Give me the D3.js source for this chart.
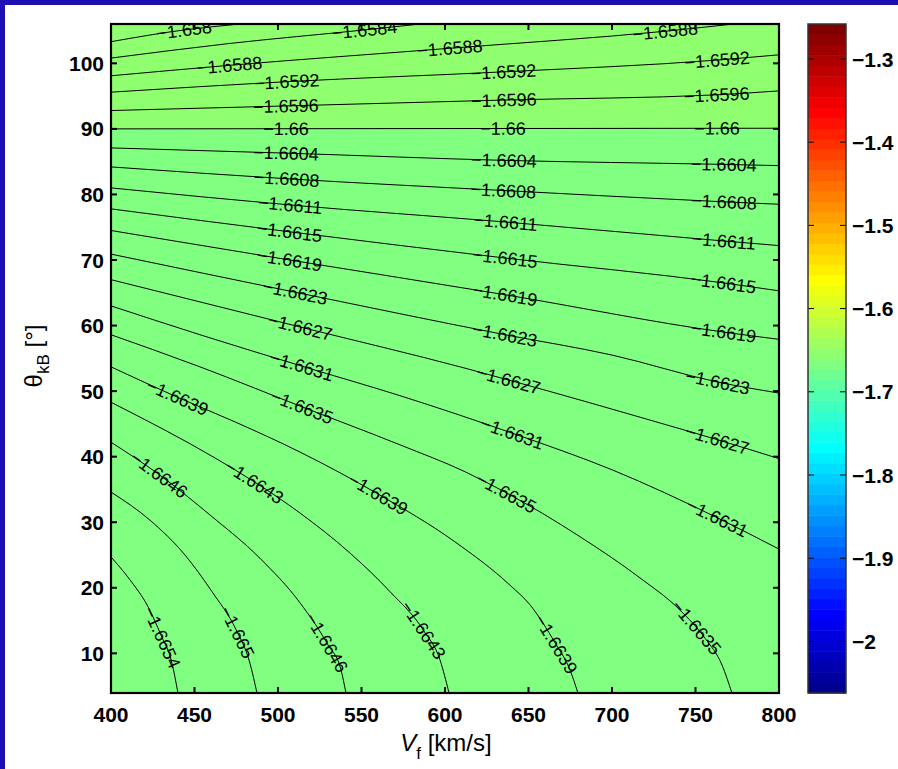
<!DOCTYPE html>
<html>
<head>
<meta charset="utf-8">
<script src="https://cdn.jsdelivr.net/npm/d3@7"></script>
<style>
  body { margin: 0; background: #fff; }
  text { font-family: "Liberation Sans", Arial, Helvetica, sans-serif; }
</style>
</head>
<body>
<div id="chart"></div>
<script>
//////////////////////////////////////////////////////////////////
////////////////////////////// Data //////////////////////////////
//////////////////////////////////////////////////////////////////

var vTicks = [400, 450, 500, 550, 600, 650, 700, 750, 800];
var thetaTicks = [10, 20, 30, 40, 50, 60, 70, 80, 90, 100];
var cbTicks = [-2, -1.9, -1.8, -1.7, -1.6, -1.5, -1.4, -1.3];

var vRange = [400, 800];
var thetaRange = [3.95, 106];
var cRange = [-2.062, -1.258];

// contour lines, [V (km/s), theta_kB (deg)]
var c1658  = [[400,103.3],[444,105.1],[477,106.0],[495,106.5]];
var c16584 = [[400,100.8],[470,103.0],[552,105.1],[600,106.4]];
var c16588 = [[400,98.1],[471,99.7],[603,102.3],[732,104.9],[780,106.2]];
var c16592 = [[400,95.6],[505,97.2],[635,98.7],[763,100.5],[800,101.3]];
var c16596 = [[400,92.8],[505,93.5],[635,94.4],[763,95.2],[800,95.8]];
var c1660  = [[400,90.0],[600,90.05],[800,90.1]];
var c16604 = [[400,87.1],[505,86.3],[635,85.2],[763,84.6],[800,84.4]];
var c16608 = [[400,84.2],[505,82.4],[635,80.6],[765,78.9],[800,78.5]];
var c16611 = [[400,81.0],[507,78.4],[636,75.8],[767,72.9],[800,72.2]];
var c16615 = [[400,77.8],[507,74.3],[636,70.3],[767,66.5],[800,65.3]];
var c16619 = [[400,74.5],[507,70.0],[636,64.7],[767,59.0],[800,57.9]];
var c16623 = [[400,70.9],[510,65.1],[636,58.6],[700,55.5],[763,51.4],[800,49.7]];
var c16627 = [[400,67.0],[513,59.8],[612,53.5],[638,51.7],[732,44.9],[763,42.6],[800,39.7]];
var c16631 = [[400,63.0],[453.3,58.6],[514.4,53.8],[573.1,49.3],[640.1,43.6],[700,38.0],[762.9,30.7],[800,25.9]];
var c16635 = [[400,58.6],[453.3,53.7],[514.4,47.6],[573.1,41.8],[612,37.7],[635.9,34.6],[680.8,27.8],
              [716.8,21.5],[740.7,16.6],[755.7,12.3],[765.9,8.2],[771.8,3.95]];
var c16639 = [[400,53.7],[439.5,49.1],[474.3,45.3],[513.2,40.7],[559.9,34.3],[606,27.0],[638.9,20.4],
              [650.9,17.4],[665.9,11.6],[674.8,7.5],[679.6,3.95]];
var c16643 = [[400,48.3],[462.3,39.8],[486.2,36.1],[513.2,31.4],[543.1,25.3],[567.1,19.4],[587.4,13.4],
              [597,9.0],[602.4,3.95]];
var c16646 = [[400,42.2],[428.1,37.4],[459.3,31.1],[489.2,24.5],[513.2,17.7],[529.9,11.3],[537.7,7.5],[540.7,3.95]];
var c1665  = [[400,34.6],[423.4,30.3],[444.3,25.0],[460.5,19.4],[474.9,13.6],[483.2,8.5],[487.4,3.95]];
var c16654 = [[400,24.7],[411.4,21.2],[422.2,17.1],[429.9,12.8],[436.5,8.5],[440.1,3.95]];

// label positions [level, V, theta]
var labelSpots = [
  [-1.658, 444, 105.1], [-1.6584, 552, 105.1],
  [-1.6588, 471, 99.7], [-1.6588, 603, 102.3], [-1.6588, 732, 104.9],
  [-1.6592, 505, 97.2], [-1.6592, 635, 98.7], [-1.6592, 763, 100.5],
  [-1.6596, 505, 93.5], [-1.6596, 635, 94.4], [-1.6596, 763, 95.2],
  [-1.66, 505, 90.0], [-1.66, 635, 90.0], [-1.66, 763, 90.1],
  [-1.6604, 505, 86.3], [-1.6604, 635, 85.2], [-1.6604, 767, 84.3],
  [-1.6608, 505, 82.4], [-1.6608, 635, 80.6], [-1.6608, 767, 78.7],
  [-1.6611, 507, 78.4], [-1.6611, 636, 75.8], [-1.6611, 767, 72.9],
  [-1.6615, 507, 74.3], [-1.6615, 636, 70.3], [-1.6615, 767, 66.5],
  [-1.6619, 507, 70.0], [-1.6619, 636, 64.7], [-1.6619, 767, 59.0],
  [-1.6623, 510, 65.1], [-1.6623, 636, 58.6], [-1.6623, 763, 51.4],
  [-1.6627, 513, 59.8], [-1.6627, 638, 51.7], [-1.6627, 763, 42.6],
  [-1.6631, 514, 53.7], [-1.6631, 640, 43.6], [-1.6631, 763, 30.7],
  [-1.6635, 514, 47.6], [-1.6635, 636, 34.2], [-1.6635, 750, 13.9],
  [-1.6639, 440, 49.1], [-1.6639, 560, 34.2], [-1.6639, 666, 11.3],
  [-1.6643, 486, 36.2], [-1.6643, 587, 13.5],
  [-1.6646, 428, 36.9], [-1.6646, 530, 11.8],
  [-1.665, 475, 13.2],
  [-1.6654, 430, 12.4]
];

var contours = [
  {level: -1.658, pts: c1658}, {level: -1.6584, pts: c16584},
  {level: -1.6588, pts: c16588}, {level: -1.6592, pts: c16592},
  {level: -1.6596, pts: c16596}, {level: -1.66, pts: c1660},
  {level: -1.6604, pts: c16604}, {level: -1.6608, pts: c16608},
  {level: -1.6611, pts: c16611}, {level: -1.6615, pts: c16615},
  {level: -1.6619, pts: c16619}, {level: -1.6623, pts: c16623},
  {level: -1.6627, pts: c16627}, {level: -1.6631, pts: c16631},
  {level: -1.6635, pts: c16635}, {level: -1.6639, pts: c16639},
  {level: -1.6643, pts: c16643}, {level: -1.6646, pts: c16646},
  {level: -1.665, pts: c1665}, {level: -1.6654, pts: c16654}
];

//////////////////////////////////////////////////////////////////
////////////////////////// Set up svg ////////////////////////////
//////////////////////////////////////////////////////////////////

var width = 898, height = 769;
var plot = {left: 111, top: 24, right: 779, bottom: 693};
var cbar = {left: 808, right: 846};

var svg = d3.select("#chart").append("svg")
  .attr("width", width)
  .attr("height", height);

svg.append("rect").attr("width", width).attr("height", height).attr("fill", "#fff");
// blue slide frame
svg.append("rect").attr("width", width).attr("height", 5).attr("fill", "#1e0fb2");
svg.append("rect").attr("width", 5).attr("height", height).attr("fill", "#1e0fb2");

var x = d3.scaleLinear().domain(vRange).range([plot.left, plot.right]);
var y = d3.scaleLinear().domain(thetaRange).range([plot.bottom, plot.top]);

// matlab jet(64)
var clamp = function(v){ return Math.max(0, Math.min(1, v)); };
var jet = d3.range(64).map(function(i){
  var t = (i + 1) / 64;
  return d3.rgb(255*clamp(1.5 - Math.abs(4*t - 3)),
                255*clamp(1.5 - Math.abs(4*t - 2)),
                255*clamp(1.5 - Math.abs(4*t - 1))).formatHex();
});
var color = d3.scaleQuantize().domain(cRange).range(jet);

var defs = svg.append("defs");
defs.append("clipPath").attr("id", "plotClip")
  .append("rect")
  .attr("x", plot.left).attr("y", plot.top)
  .attr("width", plot.right - plot.left).attr("height", plot.bottom - plot.top);

var g = svg.append("g").attr("clip-path", "url(#plotClip)");

// filled bands: below -1.66 and above -1.66
g.append("rect")
  .attr("x", plot.left).attr("y", plot.top)
  .attr("width", plot.right - plot.left).attr("height", plot.bottom - plot.top)
  .attr("fill", color(-1.6625));

g.append("path")
  .datum(c1660)
  .attr("fill", color(-1.6585))
  .attr("d", d3.area()
    .x(function(d){ return x(d[0]); })
    .y0(y(thetaRange[1]))
    .y1(function(d){ return y(d[1]); }));

// contour lines
var lineGen = d3.line()
  .x(function(d){ return x(d[0]); })
  .y(function(d){ return y(d[1]); })
  .curve(d3.curveMonotoneX);

var paths = {};
contours.forEach(function(c){
  paths[c.level] = g.append("path")
    .attr("d", lineGen(c.pts))
    .attr("fill", "none")
    .attr("stroke", "#000")
    .attr("stroke-width", 1);
});

// contour labels, rotated along the line
var fmt = function(v){ return ("" + v).replace("-", "\u2212"); };
labelSpots.forEach(function(s){
  var node = paths[s[0]].node();
  var len = node.getTotalLength();
  var px = x(s[1]), py = y(s[2]);
  var best = 0, bestD = Infinity;
  for (var l = 0; l <= len; l += 1) {
    var p = node.getPointAtLength(l);
    var d = (p.x - px)*(p.x - px) + (p.y - py)*(p.y - py);
    if (d < bestD) { bestD = d; best = l; }
  }
  var p0 = node.getPointAtLength(Math.max(0, best - 6));
  var p1 = node.getPointAtLength(Math.min(len, best + 6));
  var pc = node.getPointAtLength(best);
  var ang = Math.atan2(p1.y - p0.y, p1.x - p0.x) * 180 / Math.PI;
  if (ang > 90) ang -= 180;
  if (ang < -90) ang += 180;
  g.append("text")
    .attr("transform", "translate(" + pc.x + "," + pc.y + ") rotate(" + ang + ")")
    .attr("text-anchor", "middle")
    .attr("dy", "0.35em")
    .attr("font-size", 18)
    .attr("fill", "#000")
    .text(fmt(s[0]));
});

//////////////////////////////////////////////////////////////////
//////////////////////////// Axes ////////////////////////////////
//////////////////////////////////////////////////////////////////

var tickLen = 6;
var axes = svg.append("g");
vTicks.forEach(function(v){
  axes.append("line").attr("x1", x(v)).attr("x2", x(v))
    .attr("y1", plot.bottom).attr("y2", plot.bottom - tickLen)
    .attr("stroke", "#000").attr("stroke-width", 2);
  axes.append("line").attr("x1", x(v)).attr("x2", x(v))
    .attr("y1", plot.top).attr("y2", plot.top + tickLen)
    .attr("stroke", "#000").attr("stroke-width", 2);
  axes.append("text")
    .attr("x", x(v)).attr("y", plot.bottom + 29)
    .attr("text-anchor", "middle")
    .attr("font-size", 21).attr("font-weight", "bold")
    .text(v);
});
thetaTicks.forEach(function(t){
  axes.append("line").attr("x1", plot.left).attr("x2", plot.left + tickLen)
    .attr("y1", y(t)).attr("y2", y(t))
    .attr("stroke", "#000").attr("stroke-width", 2);
  axes.append("line").attr("x1", plot.right).attr("x2", plot.right - tickLen)
    .attr("y1", y(t)).attr("y2", y(t))
    .attr("stroke", "#000").attr("stroke-width", 2);
  axes.append("text")
    .attr("x", plot.left - 7).attr("y", y(t))
    .attr("dy", "0.36em")
    .attr("text-anchor", "end")
    .attr("font-size", 21).attr("font-weight", "bold")
    .text(t);
});
axes.append("rect")
  .attr("x", plot.left).attr("y", plot.top)
  .attr("width", plot.right - plot.left).attr("height", plot.bottom - plot.top)
  .attr("fill", "none").attr("stroke", "#000").attr("stroke-width", 2.2);

// axis titles
var xt = svg.append("text")
  .attr("x", 446).attr("y", 751)
  .attr("text-anchor", "middle")
  .attr("font-size", 24);
xt.append("tspan").attr("font-style", "italic").text("V");
xt.append("tspan").attr("font-size", 17).attr("dy", 8).text("f");
xt.append("tspan").attr("dy", -8).text(" [km/s]");

var yt = svg.append("text")
  .attr("transform", "translate(42,356) rotate(-90)")
  .attr("text-anchor", "middle")
  .attr("font-size", 24);
yt.append("tspan").text("\u03b8");
yt.append("tspan").attr("font-size", 17).attr("dy", 7).text("kB");
yt.append("tspan").attr("dy", -7).text(" [\u00b0]");

//////////////////////////////////////////////////////////////////
/////////////////////////// Colorbar /////////////////////////////
//////////////////////////////////////////////////////////////////

var cy = d3.scaleLinear().domain(cRange).range([plot.bottom, plot.top]);
var cb = svg.append("g");
var step = (cRange[1] - cRange[0]) / 64;
cb.selectAll("rect.band").data(jet).enter().append("rect")
  .attr("class", "band")
  .attr("x", cbar.left)
  .attr("width", cbar.right - cbar.left)
  .attr("y", function(d, i){ return cy(cRange[0] + (i + 1)*step); })
  .attr("height", function(d, i){ return cy(cRange[0] + i*step) - cy(cRange[0] + (i + 1)*step) + 0.5; })
  .attr("fill", function(d){ return d; });

cbTicks.forEach(function(t){
  cb.append("line").attr("x1", cbar.left).attr("x2", cbar.left + 6)
    .attr("y1", cy(t)).attr("y2", cy(t)).attr("stroke", "#000").attr("stroke-width", 1);
  cb.append("line").attr("x1", cbar.right).attr("x2", cbar.right - 6)
    .attr("y1", cy(t)).attr("y2", cy(t)).attr("stroke", "#000").attr("stroke-width", 1);
  cb.append("text")
    .attr("x", cbar.right + 6).attr("y", cy(t))
    .attr("dy", "0.36em")
    .attr("font-size", 21).attr("font-weight", "bold")
    .text(fmt(t));
});
cb.append("rect")
  .attr("x", cbar.left).attr("y", plot.top)
  .attr("width", cbar.right - cbar.left).attr("height", plot.bottom - plot.top)
  .attr("fill", "none").attr("stroke", "#333").attr("stroke-width", 1.5);
</script>
</body>
</html>
